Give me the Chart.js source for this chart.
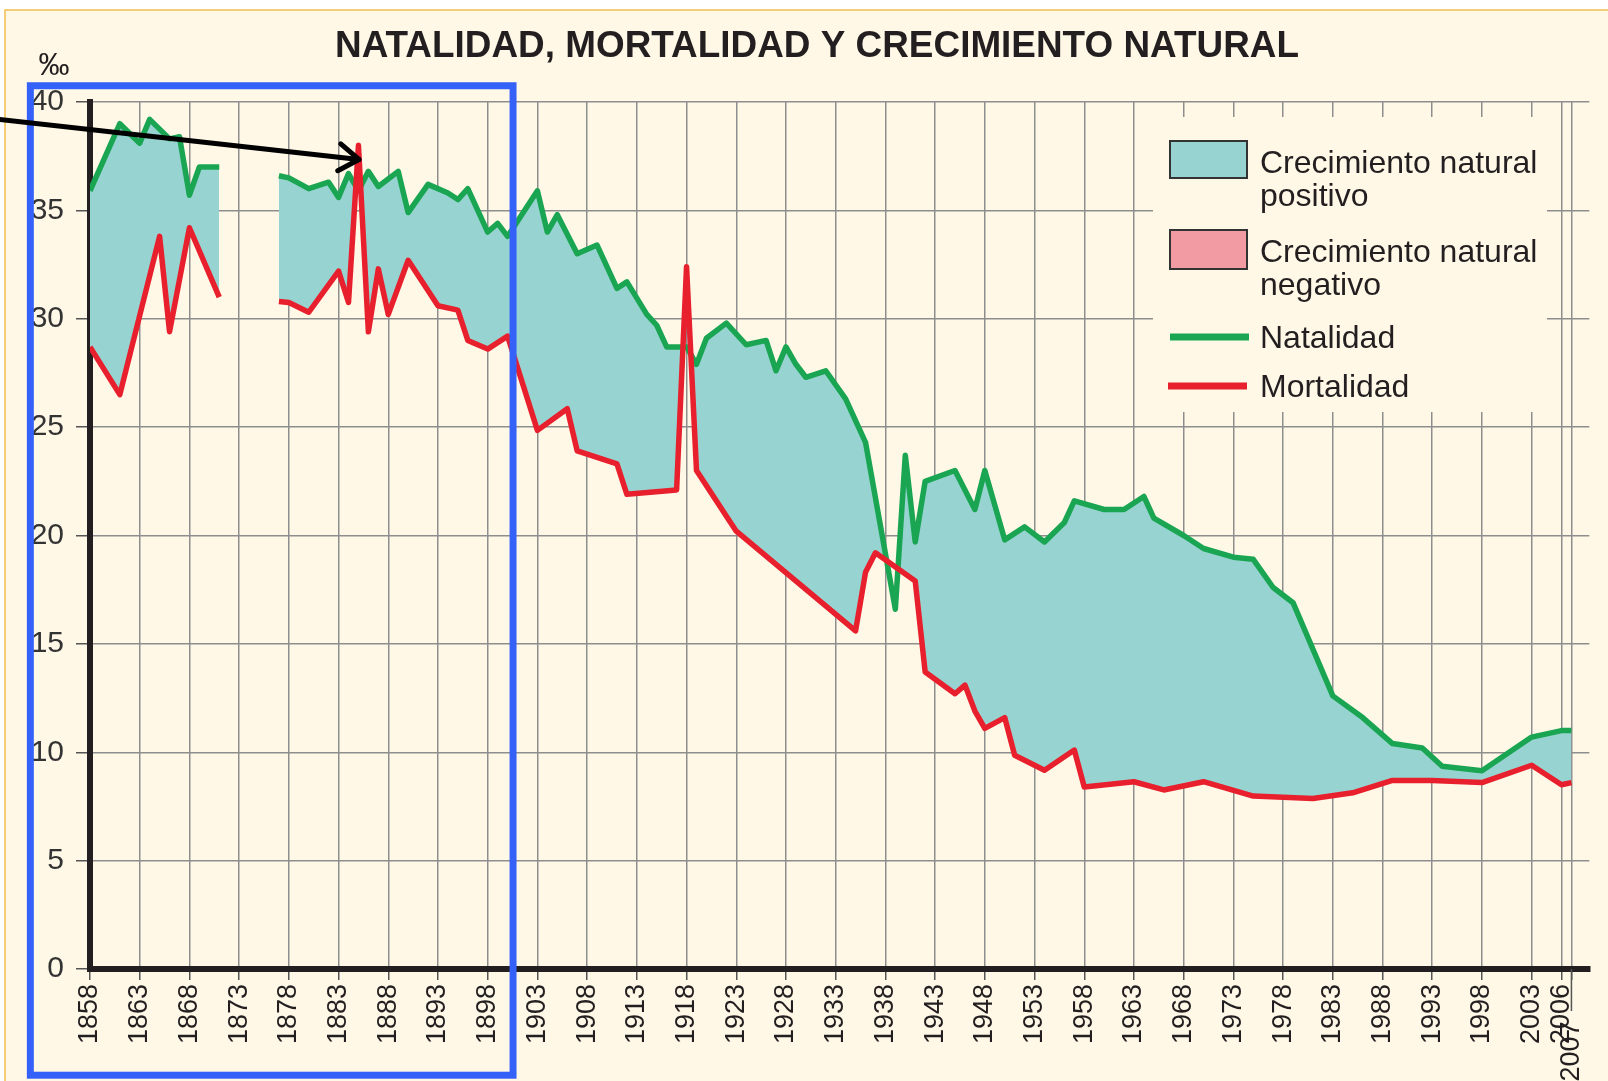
<!DOCTYPE html>
<html>
<head>
<meta charset="utf-8">
<title>Natalidad, mortalidad y crecimiento natural</title>
<script src="https://cdn.jsdelivr.net/npm/chart.js@4.4.1/dist/chart.umd.min.js"></script>
<style>
    body { margin: 0; background: #fff; }
    #wrap { width: 1608px; height: 1081px; position: relative; }
</style>
</head>
<body>
<div id="wrap"><canvas id="myChart"></canvas></div>
<script>
// values (‰), null = no data
const natYears = [1858, 1861, 1863, 1864, 1866, 1867, 1868, 1869, 1871, 1874,
    1877, 1878, 1880, 1882, 1883, 1884, 1885, 1886, 1887, 1889, 1890, 1892, 1894, 1895, 1896, 1898, 1899, 1900,
    1903, 1904, 1905, 1907, 1909, 1911, 1912, 1914, 1915, 1916, 1918, 1919, 1920, 1922, 1924, 1926, 1927, 1928,
    1929, 1930, 1932, 1934, 1936, 1939, 1940, 1941, 1942, 1945, 1947, 1948, 1950, 1952, 1954, 1956, 1957, 1960,
    1962, 1964, 1965, 1968, 1970, 1973, 1975, 1977, 1979, 1983, 1986, 1989, 1992, 1994, 1998, 2003, 2006, 2007];
const natValues = [35.9, 39.0, 38.1, 39.2, 38.3, 38.4, 35.7, 37.0, 37.0, null,
    36.6, 36.5, 36.0, 36.3, 35.6, 36.7, 35.9, 36.8, 36.1, 36.8, 34.9, 36.2, 35.8, 35.5, 36.0, 34.0, 34.4, 33.8,
    35.9, 34.0, 34.8, 33.0, 33.4, 31.4, 31.7, 30.2, 29.7, 28.7, 28.7, 27.9, 29.1, 29.8, 28.8, 29.0, 27.6, 28.7,
    27.9, 27.3, 27.6, 26.3, 24.3, 16.6, 23.7, 19.7, 22.5, 23.0, 21.2, 23.0, 19.8, 20.4, 19.7, 20.6, 21.6, 21.2,
    21.2, 21.8, 20.8, 20.0, 19.4, 19.0, 18.9, 17.6, 16.9, 12.6, 11.6, 10.4, 10.2, 9.35, 9.15, 10.7, 11.0, 11.0];

const mortYears = [1858, 1861, 1865, 1866, 1868, 1871, 1874,
    1877, 1878, 1880, 1883, 1884, 1885, 1886, 1887, 1888, 1890, 1893, 1895, 1896, 1898, 1900,
    1903, 1906, 1907, 1911, 1912, 1917, 1918, 1919, 1923, 1935, 1936, 1937, 1941, 1942, 1945, 1946, 1947,
    1948, 1950, 1951, 1954, 1957, 1958, 1963, 1966, 1970, 1975, 1981, 1985, 1989, 1993, 1998, 2003, 2006, 2007];
const mortValues = [28.7, 26.5, 33.8, 29.4, 34.2, 31.0, null,
    30.8, 30.75, 30.3, 32.2, 30.75, 38.0, 29.4, 32.3, 30.2, 32.7, 30.6, 30.4, 29.0, 28.6, 29.2,
    24.85, 25.85, 23.9, 23.3, 21.9, 22.1, 32.4, 23.0, 20.2, 15.6, 18.3, 19.2, 17.9, 13.7, 12.7, 13.1, 11.9,
    11.1, 11.6, 9.86, 9.17, 10.1, 8.4, 8.64, 8.26, 8.64, 7.98, 7.87, 8.13, 8.7, 8.7, 8.6, 9.4, 8.5, 8.6];

const tickYears = [1858, 1863, 1868, 1873, 1878, 1883, 1888, 1893, 1898, 1903, 1908, 1913, 1918, 1923, 1928,
    1933, 1938, 1943, 1948, 1953, 1958, 1963, 1968, 1973, 1978, 1983, 1988, 1993, 1998, 2003, 2006, 2007];

const titleText = "NATALIDAD, MORTALIDAD Y CRECIMIENTO NATURAL";

const font = "'Liberation Sans', Arial, sans-serif";
const ink = "#231f20";
const cream = "#fff8e7";
const teal = "#97d4d1";
const pink = "#f29ba3";
const green = "#1aa552";
const red = "#e8202d";
const gridGray = "#8e8e8e";

const toPoints = (xs, ys) => xs.map((x, i) => ({ x: x, y: ys[i] }));

// background, title, legend and the drawn-on annotations
const paper = {
    id: "paper",
    beforeDraw(chart) {
        const ctx = chart.ctx;
        ctx.save();
        ctx.fillStyle = "#fff";
        ctx.fillRect(0, 0, chart.width, chart.height);
        ctx.fillStyle = cream;
        ctx.fillRect(5, 10, chart.width - 5, chart.height - 10);
        ctx.strokeStyle = "#f4bd50";
        ctx.lineWidth = 1.5;
        ctx.beginPath();
        ctx.moveTo(5, chart.height);
        ctx.lineTo(5, 10);
        ctx.lineTo(chart.width, 10);
        ctx.stroke();
        ctx.restore();
    },
    afterDraw(chart) {
        const ctx = chart.ctx;
        const xs = chart.scales.x;
        const ys = chart.scales.y;
        ctx.save();

        // title
        ctx.fillStyle = ink;
        ctx.font = "bold 36px " + font;
        ctx.textAlign = "center";
        ctx.textBaseline = "middle";
        const w = ctx.measureText(titleText).width;
        ctx.save();
        ctx.translate(817, 47);
        ctx.scale(964 / w, 1);
        ctx.fillText(titleText, 0, 0);
        ctx.restore();

        // unit
        ctx.font = "31px " + font;
        ctx.fillText("‰", 54, 66);

        // longer tick for 2007
        ctx.strokeStyle = "#555";
        ctx.lineWidth = 1.5;
        const x07 = xs.getPixelForValue(2007);
        ctx.beginPath();
        ctx.moveTo(x07, ys.bottom);
        ctx.lineTo(x07, ys.bottom + 42);
        ctx.stroke();

        // legend
        ctx.fillStyle = cream;
        ctx.fillRect(1153, 117, 394, 295);
        ctx.lineWidth = 2;
        ctx.strokeStyle = "#333";
        ctx.fillStyle = teal;
        ctx.fillRect(1170, 141, 77, 37);
        ctx.strokeRect(1170, 141, 77, 37);
        ctx.fillStyle = pink;
        ctx.fillRect(1170, 230, 77, 39);
        ctx.strokeRect(1170, 230, 77, 39);
        ctx.lineWidth = 7;
        ctx.strokeStyle = green;
        ctx.beginPath(); ctx.moveTo(1170, 337); ctx.lineTo(1249, 337); ctx.stroke();
        ctx.strokeStyle = red;
        ctx.beginPath(); ctx.moveTo(1168, 386); ctx.lineTo(1247, 386); ctx.stroke();

        ctx.fillStyle = ink;
        ctx.font = "32px " + font;
        ctx.textAlign = "left";
        ctx.textBaseline = "alphabetic";
        ctx.fillText("Crecimiento natural", 1260, 173);
        ctx.fillText("positivo", 1260, 206);
        ctx.fillText("Crecimiento natural", 1260, 262);
        ctx.fillText("negativo", 1260, 295);
        ctx.fillText("Natalidad", 1260, 348);
        ctx.fillText("Mortalidad", 1260, 397);

        // blue frame and arrow drawn over the chart
        ctx.strokeStyle = "#3462f8";
        ctx.lineWidth = 7;
        const bx1 = xs.getPixelForValue(1852), bx2 = xs.getPixelForValue(1900.55);
        const by1 = ys.getPixelForValue(40.75), by2 = ys.getPixelForValue(-4.9);
        ctx.strokeRect(bx1, by1, bx2 - bx1, by2 - by1);

        const ax = xs.getPixelForValue(1848.8), ay = ys.getPixelForValue(39.2);
        const tx = xs.getPixelForValue(1885.05), ty = ys.getPixelForValue(37.35);
        const ang = Math.atan2(ty - ay, tx - ax);
        ctx.strokeStyle = "#000";
        ctx.lineWidth = 5;
        ctx.lineCap = "round";
        ctx.lineJoin = "round";
        ctx.beginPath(); ctx.moveTo(ax, ay); ctx.lineTo(tx, ty); ctx.stroke();
        ctx.beginPath();
        ctx.moveTo(tx - 24 * Math.cos(ang - 0.6), ty - 24 * Math.sin(ang - 0.6));
        ctx.lineTo(tx, ty);
        ctx.lineTo(tx - 24 * Math.cos(ang + 0.6), ty - 24 * Math.sin(ang + 0.6));
        ctx.stroke();

        ctx.restore();
    }
};

const ctx = document.getElementById("myChart").getContext("2d");
const myChart = new Chart(ctx, {
    type: "line",
    data: {
        datasets: [
            {
                label: "Mortalidad",
                data: toPoints(mortYears, mortValues),
                borderColor: red,
                borderWidth: 5.5,
                borderJoinStyle: "round",
                pointRadius: 0,
                fill: false,
                spanGaps: false
            },
            {
                label: "Natalidad",
                data: toPoints(natYears, natValues),
                borderColor: green,
                borderWidth: 5.5,
                borderJoinStyle: "round",
                pointRadius: 0,
                spanGaps: false,
                fill: { target: 0, above: teal, below: "rgba(0,0,0,0)" }
            }
        ]
    },
    options: {
        animation: false,
        responsive: true,
        maintainAspectRatio: false,
        layout: { padding: { top: 102, right: 14, left: 0, bottom: 0 } },
        plugins: {
            legend: { display: false },
            tooltip: { enabled: false },
            filler: { drawTime: "beforeDatasetsDraw" }
        },
        scales: {
            x: {
                type: "linear",
                min: 1858,
                max: 2008.8,
                afterBuildTicks: scale => {
                    scale.ticks = tickYears.map(v => ({ value: v }));
                },
                afterFit: scale => {
                    scale.height = 112;
                },
                ticks: {
                    autoSkip: false,
                    minRotation: 90,
                    maxRotation: 90,
                    padding: 4,
                    color: ink,
                    font: { size: 27, family: font },
                    callback: v => (v === 2007 ? v + "     " : String(v))
                },
                grid: { color: gridGray, lineWidth: 1.5, tickLength: 11, tickColor: "#555" },
                border: { color: ink, width: 6 }
            },
            y: {
                min: 0,
                max: 40,
                afterFit: scale => {
                    scale.width = 90;
                },
                ticks: {
                    stepSize: 5,
                    padding: 12,
                    color: "#333",
                    font: { size: 30, family: font }
                },
                grid: { color: gridGray, lineWidth: 1.5, tickLength: 14, tickColor: "#555" },
                border: { color: ink, width: 6 }
            }
        }
    },
    plugins: [paper]
});
</script>
</body>
</html>
